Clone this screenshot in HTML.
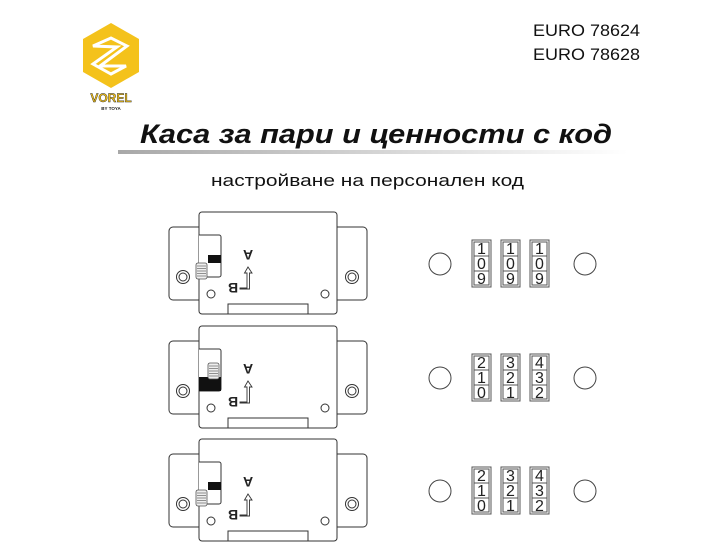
<!DOCTYPE html>
<html><head><meta charset="utf-8"><style>
html,body{margin:0;padding:0;background:#fff;}
svg{display:block}
</style></head><body>
<svg width="715" height="550" viewBox="0 0 715 550" xmlns="http://www.w3.org/2000/svg">
<defs>
<linearGradient id="bar" x1="0" x2="1" y1="0" y2="0">
<stop offset="0" stop-color="#a8a8a8"/><stop offset="1" stop-color="#ffffff"/>
</linearGradient>
<g id="gear">
<rect x="0" y="0" width="11" height="16" rx="2" fill="#eee" stroke="#555" stroke-width="0.8"/>
<g stroke="#777" stroke-width="0.8">
<line x1="1" y1="3" x2="10" y2="3"/><line x1="1" y1="5.5" x2="10" y2="5.5"/><line x1="1" y1="8" x2="10" y2="8"/><line x1="1" y1="10.5" x2="10" y2="10.5"/><line x1="1" y1="13" x2="10" y2="13"/>
</g>
</g>
<g id="lockbase" fill="#fff" stroke="#333" stroke-width="1">
<rect x="169" y="227" width="34" height="73" rx="4"/>
<rect x="333" y="227" width="34" height="73" rx="4"/>
<rect x="199" y="212" width="138" height="102" rx="3"/>
<circle cx="183" cy="277" r="6.5"/><circle cx="183" cy="277" r="4"/>
<circle cx="352" cy="277" r="6.5"/><circle cx="352" cy="277" r="4"/>
<circle cx="211" cy="294" r="4"/><circle cx="325" cy="294" r="4"/>
<rect x="228" y="304" width="80" height="10"/>
<path d="M199 235 H219 a2 2 0 0 1 2 2 V275 a2 2 0 0 1 -2 2 H199"/>
<path d="M248 267 L252 273 H249.5 V289 H240 V288 H247 V273 H244.5 Z" stroke-width="0.9"/>
<text x="0" y="0" transform="translate(248,250) rotate(180)" text-anchor="middle" font-family="Liberation Sans, sans-serif" font-weight="bold" font-size="14" fill="#222" stroke="none">A</text>
<text x="0" y="0" transform="translate(233,283) rotate(180)" text-anchor="middle" font-family="Liberation Sans, sans-serif" font-weight="bold" font-size="14" fill="#222" stroke="none">B</text>
</g>
<g id="cols" fill="none" stroke="#555">
<rect x="472" y="240" width="19" height="47"/><rect x="474" y="242" width="15" height="43"/><line x1="474" y1="256" x2="489" y2="256"/><line x1="474" y1="271" x2="489" y2="271"/>
<rect x="501" y="240" width="19" height="47"/><rect x="503" y="242" width="15" height="43"/><line x1="503" y1="256" x2="518" y2="256"/><line x1="503" y1="271" x2="518" y2="271"/>
<rect x="530" y="240" width="19" height="47"/><rect x="532" y="242" width="15" height="43"/><line x1="532" y1="256" x2="547" y2="256"/><line x1="532" y1="271" x2="547" y2="271"/>
<circle cx="440" cy="264" r="11" stroke="#444"/>
<circle cx="585" cy="264" r="11" stroke="#444"/>
</g>
</defs>

<!-- logo -->
<polygon points="111,23 139,39 139,72 111,88 83,72 83,39" fill="#f4c21b"/>
<path d="M93 46 L111 38 L127 46 L100 66 L126 66 L111 74 L93 64 L117 47 Z" fill="none" stroke="#fff" stroke-width="3"/>
<text x="111" y="102" text-anchor="middle" font-family="Liberation Sans, sans-serif" font-weight="bold" font-size="12" fill="#f4c21b" stroke="#222" stroke-width="0.4">VOREL</text>
<text x="111" y="110" text-anchor="middle" font-family="Liberation Sans, sans-serif" font-weight="bold" font-size="4.5" fill="#222">BY TOYA</text>

<text x="640" y="36" text-anchor="end" font-family="Liberation Sans, sans-serif" font-size="17" fill="#111" textLength="107" lengthAdjust="spacingAndGlyphs">EURO 78624</text>
<text x="640" y="60" text-anchor="end" font-family="Liberation Sans, sans-serif" font-size="17" fill="#111" textLength="107" lengthAdjust="spacingAndGlyphs">EURO 78628</text>

<text x="140" y="143" font-family="Liberation Sans, sans-serif" font-weight="bold" font-style="italic" font-size="27" fill="#111" textLength="472" lengthAdjust="spacingAndGlyphs">Каса за пари и ценности с код</text>
<rect x="118" y="150" width="510" height="4" fill="url(#bar)"/>
<text x="211" y="186" font-family="Liberation Sans, sans-serif" font-size="17" fill="#111" textLength="313" lengthAdjust="spacingAndGlyphs">настройване на персонален код</text>

<use href="#lockbase"/>
<rect x="208" y="255" width="13" height="8" fill="#111"/>
<use href="#gear" x="196" y="263"/>
<g transform="translate(0,114)">
<use href="#lockbase"/>
<rect x="199" y="263" width="22" height="14" fill="#111"/>
<use href="#gear" x="208" y="249"/>
</g>
<g transform="translate(0,227)">
<use href="#lockbase"/>
<rect x="208" y="255" width="13" height="8" fill="#111"/>
<use href="#gear" x="196" y="263"/>
</g>

<g font-family="Liberation Sans, sans-serif" font-size="16" fill="#222" text-anchor="middle">
<g>
<use href="#cols"/>
<text x="481.5" y="254">1</text><text x="481.5" y="269">0</text><text x="481.5" y="284">9</text>
<text x="510.5" y="254">1</text><text x="510.5" y="269">0</text><text x="510.5" y="284">9</text>
<text x="539.5" y="254">1</text><text x="539.5" y="269">0</text><text x="539.5" y="284">9</text>
</g>
<g transform="translate(0,114)">
<use href="#cols"/>
<text x="481.5" y="254">2</text><text x="481.5" y="269">1</text><text x="481.5" y="284">0</text>
<text x="510.5" y="254">3</text><text x="510.5" y="269">2</text><text x="510.5" y="284">1</text>
<text x="539.5" y="254">4</text><text x="539.5" y="269">3</text><text x="539.5" y="284">2</text>
</g>
<g transform="translate(0,227)">
<use href="#cols"/>
<text x="481.5" y="254">2</text><text x="481.5" y="269">1</text><text x="481.5" y="284">0</text>
<text x="510.5" y="254">3</text><text x="510.5" y="269">2</text><text x="510.5" y="284">1</text>
<text x="539.5" y="254">4</text><text x="539.5" y="269">3</text><text x="539.5" y="284">2</text>
</g>
</g>
</svg>
</body></html>
